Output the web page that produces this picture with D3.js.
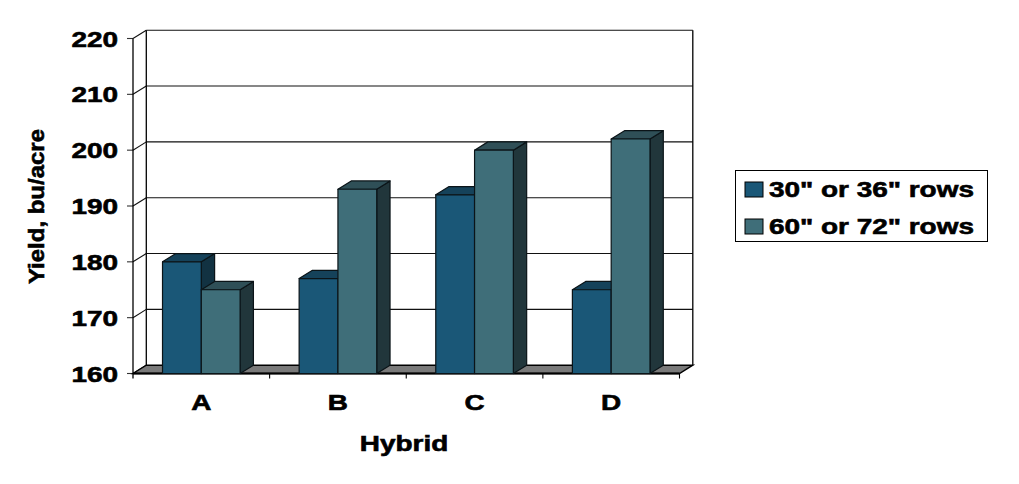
<!DOCTYPE html>
<html>
<head>
<meta charset="utf-8">
<script src="https://cdn.jsdelivr.net/npm/d3@7"></script>
<style>
  body { margin: 0; background: #fff; }
  text { font-family: "Liberation Sans", Arial, sans-serif; font-weight: bold; fill: #000; stroke: #000; stroke-width: 0.6px; }
</style>
</head>
<body>
<div id="chart"></div>
<script>
const hybrids = ["A", "B", "C", "D"];
const seriesNames = ["30\" or 36\" rows", "60\" or 72\" rows"];
const rows3036 = [180, 177, 192, 175];
const rows6072 = [175, 193, 200, 202];
const yTicks = [160, 170, 180, 190, 200, 210, 220];

const width = 1019;
const height = 484;

// 3d depth offset of the chart box
const dx = 13.3;
const dy = 8.3;
const sx = 1.27; // text in the picture is stretched horizontally

const colors = [
  { front: "#1a5777", top: "#15425a", side: "#123242" },
  { front: "#3f6e79", top: "#2f4f57", side: "#21363b" }
];

const svg = d3.select("#chart")
  .append("svg")
  .attr("width", width)
  .attr("height", height);

const xScale = d3.scaleBand()
  .domain(hybrids)
  .range([133, 679.5]);

const yScale = d3.scaleLinear()
  .domain([160, 220])
  .range([373.5, 38.5]);

const groupW = xScale.bandwidth() * 0.568;
const xInner = d3.scaleBand()
  .domain(seriesNames)
  .range([(xScale.bandwidth() - groupW) / 2, (xScale.bandwidth() + groupW) / 2]);

const x0 = xScale.range()[0];
const x1 = xScale.range()[1];
const yTop = yScale(220);
const yBase = yScale(160);

// back wall gridlines + side wall diagonals
const grid = svg.append("g");
yTicks.forEach(t => {
  const y = yScale(t);
  if (t > 160) {
    grid.append("line")
      .attr("x1", x0 + dx).attr("x2", x1 + dx)
      .attr("y1", y - dy).attr("y2", y - dy)
      .attr("stroke", "#111").attr("stroke-width", 1.1);
  }
  grid.append("line")
    .attr("x1", x0).attr("y1", y)
    .attr("x2", x0 + dx).attr("y2", y - dy)
    .attr("stroke", "#111").attr("stroke-width", 1.1);
  grid.append("line")
    .attr("x1", x0 - 6).attr("x2", x0)
    .attr("y1", y).attr("y2", y)
    .attr("stroke", "#333").attr("stroke-width", 1.1);
});

// wall edges
grid.append("line")
  .attr("x1", x0 + dx).attr("x2", x0 + dx)
  .attr("y1", yTop - dy).attr("y2", yBase - dy)
  .attr("stroke", "#000").attr("stroke-width", 1.3);
grid.append("line")
  .attr("x1", x1 + dx).attr("x2", x1 + dx)
  .attr("y1", yTop - dy).attr("y2", yBase - dy)
  .attr("stroke", "#000").attr("stroke-width", 1.3);

// floor
svg.append("polygon")
  .attr("points", [[x0, yBase], [x0 + dx, yBase - dy], [x1 + dx, yBase - dy], [x1, yBase]].join(" "))
  .attr("fill", "#7a7a7a")
  .attr("stroke", "#000")
  .attr("stroke-width", 1.4);
svg.append("line")
  .attr("x1", x0).attr("x2", x1)
  .attr("y1", yBase).attr("y2", yBase)
  .attr("stroke", "#000").attr("stroke-width", 2);

// front value axis
svg.append("line")
  .attr("x1", x0).attr("x2", x0)
  .attr("y1", yTop).attr("y2", yBase + 5)
  .attr("stroke", "#000").attr("stroke-width", 1.3);

// category ticks
xScale.domain().forEach(h => {
  const xe = xScale(h) + xScale.bandwidth();
  svg.append("line")
    .attr("x1", xe).attr("x2", xe)
    .attr("y1", yBase).attr("y2", yBase + 5)
    .attr("stroke", "#000").attr("stroke-width", 1.1);
});

// bars
const data = hybrids.map((h, i) => ({ hybrid: h, values: [rows3036[i], rows6072[i]] }));
const barG = svg.append("g");
data.forEach(d => {
  d.values.forEach((v, s) => {
    const bx = xScale(d.hybrid) + xInner(seriesNames[s]);
    const bw = xInner.bandwidth();
    const by = yScale(v);
    const c = colors[s];
    const g = barG.append("g")
      .attr("stroke", "#0b1418")
      .attr("stroke-width", 1.2)
      .attr("stroke-linejoin", "round");
    g.append("polygon")
      .attr("points", [[bx + bw, by], [bx + bw + dx, by - dy], [bx + bw + dx, yBase - dy], [bx + bw, yBase]].join(" "))
      .attr("fill", c.side);
    g.append("polygon")
      .attr("points", [[bx, by], [bx + dx, by - dy], [bx + bw + dx, by - dy], [bx + bw, by]].join(" "))
      .attr("fill", c.top);
    g.append("rect")
      .attr("x", bx).attr("y", by)
      .attr("width", bw).attr("height", yBase - by)
      .attr("fill", c.front);
  });
});

// tick labels
svg.append("g")
  .selectAll("text")
  .data(yTicks)
  .enter()
  .append("text")
  .attr("transform", t => `translate(118,${yScale(t) + 8}) scale(${sx},1)`)
  .attr("text-anchor", "end")
  .attr("font-size", 22)
  .text(t => t);

// category labels
svg.append("g")
  .selectAll("text")
  .data(hybrids)
  .enter()
  .append("text")
  .attr("transform", h => `translate(${xScale(h) + xScale.bandwidth() / 2},410) scale(${sx},1)`)
  .attr("text-anchor", "middle")
  .attr("font-size", 22)
  .text(h => h);

// axis titles
svg.append("text")
  .attr("transform", `translate(404,450.5) scale(${sx},1)`)
  .attr("text-anchor", "middle")
  .attr("font-size", 22)
  .text("Hybrid");

svg.append("text")
  .attr("transform", "translate(43.5,206.5) rotate(-90) scale(1.09,1)")
  .attr("text-anchor", "middle")
  .attr("font-size", 22)
  .text("Yield, bu/acre");

// legend
const legend = svg.append("g");
legend.append("rect")
  .attr("x", 735.5).attr("y", 170.5)
  .attr("width", 252).attr("height", 71)
  .attr("fill", "#fff")
  .attr("stroke", "#000")
  .attr("stroke-width", 1);
seriesNames.forEach((name, i) => {
  const y = 182 + i * 37;
  legend.append("rect")
    .attr("x", 745).attr("y", y)
    .attr("width", 18).attr("height", 15)
    .attr("fill", colors[i].front)
    .attr("stroke", "#000")
    .attr("stroke-width", 1);
  legend.append("text")
    .attr("transform", `translate(769,${y + 15}) scale(${sx},1)`)
    .attr("font-size", 22)
    .text(name);
});
</script>
</body>
</html>
